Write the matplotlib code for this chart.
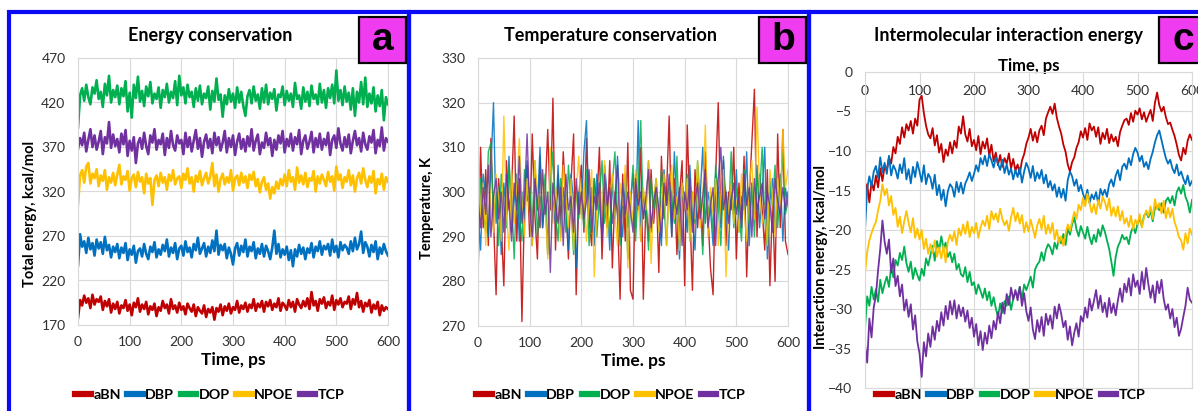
import numpy as np
import matplotlib
matplotlib.use("Agg")
import matplotlib.pyplot as plt
from matplotlib.lines import Line2D
from matplotlib.patches import Rectangle

plt.rcParams['font.family'] = ['Lato', 'DejaVu Sans']

series_names = ["aBN", "DBP", "DOP", "NPOE", "TCP"]
series_colors = ["#C00000", "#0070C0", "#00B050", "#FFC000", "#7030A0"]

# ---------------- Panel a: total energy (t = 0..600 step 4 ps) ----------------
time_a = list(range(0, 601, 4))
energy_aBN = [178, 198, 192, 203, 195, 200, 189, 204, 193, 199,
              196, 202, 187, 197, 191, 199, 184, 194, 188, 196,
              183, 192, 189, 198, 186, 193, 181, 195, 190, 200,
              185, 193, 188, 196, 182, 191, 187, 194, 180, 190,
              186, 197, 189, 193, 183, 199, 188, 192, 184, 195,
              187, 191, 182, 194, 189, 185, 193, 180, 190, 186,
              183, 192, 179, 188, 184, 190, 176, 189, 185, 193,
              181, 191, 186, 194, 183, 190, 187, 197, 184, 192,
              188, 195, 185, 193, 189, 199, 186, 194, 190, 197,
              185, 196, 191, 198, 187, 194, 190, 200, 186, 195,
              192, 187, 198, 190, 196, 185, 199, 193, 189, 197,
              191, 200, 188, 207, 192, 197, 186, 199, 194, 201,
              189, 196, 192, 203, 187, 198, 193, 200, 190, 196,
              194, 202, 188, 199, 193, 206, 190, 197, 185, 195,
              191, 198, 184, 193, 188, 196, 181, 192, 186, 190, 188]
energy_DBP = [237, 272, 258, 264, 251, 268, 255, 262, 248, 266,
              256, 263, 250, 269, 254, 260, 246, 258, 252, 261,
              245, 257, 251, 262, 243, 255, 249, 259, 240, 253,
              256, 247, 261, 250, 244, 258, 252, 263, 246, 255,
              249, 260, 253, 266, 247, 257, 251, 262, 244, 256,
              259, 248, 264, 252, 257, 246, 261, 254, 268, 250,
              256, 262, 247, 258, 251, 265, 253, 276, 249, 260,
              254, 261, 245, 257, 250, 238, 256, 262, 248, 259,
              252, 266, 247, 258, 253, 263, 245, 256, 250, 261,
              247, 259, 253, 244, 257, 276, 250, 261, 246, 255,
              249, 258, 243, 254, 236, 255, 247, 260, 250, 257,
              244, 256, 251, 262, 246, 258, 253, 264, 249, 259,
              255, 261, 248, 266, 252, 259, 246, 263, 254, 260,
              257, 250, 264, 253, 268, 255, 261, 275, 251, 263,
              258, 247, 260, 252, 264, 244, 257, 250, 261, 253, 248]
energy_DOP = [392, 428, 436, 422, 440, 426, 418, 437, 430, 445,
              424, 432, 415, 441, 428, 450, 420, 434, 426, 439,
              418, 436, 427, 444, 410, 431, 403, 440, 425, 449,
              421, 433, 416, 438, 427, 443, 419, 430, 424, 437,
              414, 434, 426, 441, 420, 432, 425, 444, 417, 450,
              428, 437, 419, 440, 426, 432, 415, 436, 422, 439,
              418, 430, 425, 438, 412, 433, 421, 447, 423, 429,
              404, 428, 418, 435, 421, 430, 414, 437, 420, 432,
              416, 405, 427, 434, 419, 438, 422, 429, 413, 436,
              420, 440, 418, 431, 424, 435, 411, 429, 426, 438,
              417, 433, 422, 430, 415, 442, 424, 428, 413, 437,
              421, 432, 416, 439, 424, 429, 418, 441, 420, 434,
              414, 436, 425, 440, 419, 456, 422, 434, 417, 438,
              421, 431, 412, 436, 405, 432, 420, 443, 418, 448,
              415, 430, 419, 437, 410, 428, 416, 434, 400, 426, 418]
energy_NPOE = [305, 338, 344, 330, 348, 352, 329, 340, 335, 345,
               326, 338, 332, 344, 322, 336, 330, 341, 327, 339,
               350, 328, 337, 333, 343, 321, 335, 339, 325, 342,
               331, 336, 318, 340, 329, 335, 305, 333, 338, 326,
               341, 330, 336, 322, 339, 332, 344, 328, 335, 337,
               324, 340, 333, 346, 329, 336, 320, 338, 331, 343,
               327, 335, 341, 329, 337, 352, 326, 339, 320, 334,
               340, 328, 336, 330, 344, 321, 335, 338, 327, 341,
               330, 337, 324, 339, 333, 342, 326, 334, 319, 331,
               336, 322, 329, 312, 325, 318, 331, 323, 334, 327,
               339, 326, 344, 331, 336, 322, 347, 330, 338, 328,
               341, 325, 335, 332, 343, 320, 337, 329, 339, 333,
               326, 342, 331, 337, 321, 348, 333, 339, 324, 336,
               331, 344, 327, 338, 320, 335, 341, 329, 346, 333,
               325, 337, 330, 343, 318, 334, 328, 340, 322, 336, 331]
energy_TCP = [368, 380, 372, 386, 365, 378, 390, 370, 383, 367,
              376, 388, 362, 381, 374, 398, 369, 384, 371, 379,
              364, 385, 373, 389, 360, 377, 366, 381, 352, 374,
              380, 368, 386, 371, 362, 383, 375, 390, 367, 378,
              373, 385, 361, 380, 369, 388, 372, 366, 383, 374,
              378, 362, 386, 370, 381, 365, 377, 389, 368, 380,
              359, 376, 384, 369, 379, 363, 386, 372, 381, 366,
              375, 388, 364, 380, 370, 383, 361, 376, 385, 368,
              379, 365, 382, 371, 390, 366, 377, 384, 362, 375,
              369, 386, 372, 380, 360, 378, 367, 383, 374, 388,
              364, 379, 371, 385, 366, 381, 373, 389, 362, 377,
              383, 368, 376, 387, 364, 380, 370, 385, 367, 379,
              372, 386, 361, 378, 383, 369, 391, 374, 366, 381,
              370, 384, 363, 377, 388, 372, 380, 365, 386, 373,
              367, 382, 375, 389, 363, 378, 371, 392, 366, 380, 376]

# ---------------- Panel b: temperature (t = 0..600 step 5 ps) ----------------
time_b = list(range(0, 601, 5))
temp_aBN = [280, 310, 292, 305, 288, 312, 294, 277, 303, 293,
            279, 307, 296, 300, 317, 289, 303, 271, 297, 306,
            290, 313, 295, 285, 308, 292, 300, 314, 296, 321,
            287, 304, 293, 309, 298, 285, 302, 313, 277, 299,
            306, 291, 312, 294, 288, 303, 297, 310, 285, 301,
            292, 307, 283, 300, 295, 276, 304, 289, 311, 278,
            276, 304, 296, 310, 276, 298, 289, 305, 293, 301,
            282, 308, 294, 300, 317, 290, 303, 286, 299, 307,
            279, 315, 296, 278, 305, 292, 301, 288, 309, 295,
            283, 277, 304, 320, 293, 307, 288, 300, 296, 310,
            285, 302, 294, 308, 281, 299, 311, 323, 290, 304,
            296, 287, 305, 279, 298, 280, 313, 292, 314, 289, 286]
temp_DBP = [296, 287, 304, 299, 290, 305, 320, 293, 301, 286,
            302, 295, 308, 291, 298, 304, 289, 300, 294, 307,
            297, 288, 303, 296, 310, 292, 299, 286, 305, 298,
            293, 306, 290, 301, 296, 287, 304, 298, 283, 300,
            295, 309, 316, 292, 301, 288, 304, 297, 291, 306,
            299, 287, 303, 294, 308, 296, 290, 302, 285, 297,
            304, 292, 316, 289, 300, 295, 307, 291, 298, 303,
            294, 288, 305, 297, 301, 290, 309, 296, 285, 302,
            298, 291, 306, 295, 287, 303, 299, 310, 293, 300,
            296, 288, 304, 301, 292, 308, 297, 287, 302, 294,
            305, 291, 299, 296, 309, 288, 302, 295, 306, 292,
            300, 310, 285, 298, 303, 291, 296, 304, 289, 301, 297]
temp_DOP = [283, 303, 296, 291, 309, 311, 294, 300, 288, 304,
            297, 292, 306, 299, 285, 302, 295, 289, 305, 298,
            301, 293, 307, 290, 299, 296, 304, 287, 300, 309,
            295, 289, 303, 298, 291, 306, 297, 286, 301, 294,
            300, 292, 305, 288, 296, 303, 290, 299, 307, 293,
            298, 291, 302, 309, 295, 288, 300, 304, 292, 297,
            306, 289, 301, 316, 294, 298, 287, 303, 296, 300,
            291, 305, 297, 288, 302, 299, 293, 308, 290, 301,
            296, 304, 289, 300, 293, 307, 298, 286, 302, 295,
            299, 291, 306, 297, 288, 303, 300, 294, 309, 292,
            301, 296, 289, 305, 298, 293, 302, 290, 304, 299,
            310, 294, 288, 303, 297, 306, 292, 300, 309, 295, 298]
temp_NPOE = [311, 293, 302, 288, 306, 297, 291, 304, 299, 289,
             317, 296, 287, 305, 293, 301, 312, 298, 290, 303,
             295, 288, 307, 300, 292, 304, 297, 285, 310, 293,
             301, 296, 289, 306, 299, 292, 303, 287, 300, 308,
             294, 302, 289, 298, 305, 281, 296, 301, 293, 307,
             290, 299, 304, 295, 288, 302, 297, 306, 283, 300,
             293, 305, 298, 289, 301, 296, 307, 284, 299, 303,
             291, 297, 304, 288, 300, 306, 294, 299, 287, 302,
             296, 303, 289, 300, 294, 307, 292, 298, 315, 290,
             301, 295, 303, 288, 299, 305, 281, 296, 302, 293,
             298, 291, 304, 296, 289, 302, 307, 294, 319, 300,
             293, 297, 288, 305, 299, 290, 303, 296, 314, 301, 305]
temp_TCP = [298, 292, 301, 295, 306, 290, 299, 303, 294, 300,
            291, 304, 297, 289, 302, 296, 308, 293, 299, 313,
            296, 290, 303, 298, 292, 305, 295, 300, 282, 302,
            297, 293, 301, 288, 304, 296, 299, 291, 303, 295,
            300, 294, 298, 305, 291, 299, 296, 302, 289, 304,
            297, 301, 293, 299, 306, 290, 302, 295, 300, 296,
            291, 303, 297, 300, 294, 299, 305, 292, 298, 301,
            296, 290, 302, 297, 304, 293, 299, 295, 301, 288,
            300, 296, 303, 291, 298, 302, 294, 299, 305, 292,
            297, 301, 288, 303, 310, 296, 300, 293, 298, 302,
            295, 299, 292, 304, 297, 301, 290, 303, 296, 299,
            302, 294, 300, 297, 291, 303, 298, 295, 301, 296, 300]

# ---------------- Panel c: interaction energy (t = 0..600 step 4 ps) ----------------
time_c = list(range(0, 601, 4))
inter_aBN = [-15.8, -14.2, -16.5, -13.9, -15.0, -13.1, -14.6, -12.2, -13.8, -11.9,
             -12.4, -10.8, -11.6, -9.5, -10.3, -8.2, -9.1, -7.0, -8.3, -6.6,
             -7.4, -6.2, -7.8, -5.9, -6.8, -3.5, -3.0, -5.2, -6.8, -7.9,
             -8.4, -7.1, -9.3, -8.0, -10.2, -9.1, -11.4, -9.8, -10.6, -8.9,
             -10.3, -8.7, -9.6, -6.9, -7.8, -5.6, -7.9, -8.8, -7.2, -9.4,
             -8.6, -9.9, -8.1, -10.4, -8.8, -9.7, -8.4, -10.6, -9.2, -11.3,
             -10.2, -11.8, -10.5, -12.0, -10.9, -11.6, -10.3, -12.2, -11.0, -12.5,
             -11.7, -12.9, -11.2, -10.4, -9.1, -8.3, -7.2, -8.7, -7.6, -8.9,
             -7.4, -6.8, -8.0, -5.9, -5.1, -4.4, -5.3, -4.0, -5.8, -6.9,
             -7.8, -9.2, -10.1, -11.7, -12.6, -11.4, -10.8, -9.6, -8.9, -7.5,
             -8.3, -7.1, -8.6, -6.5, -7.4, -6.9, -8.2, -7.0, -9.1, -7.7,
             -8.5, -7.2, -9.0, -7.9, -8.8, -8.2, -9.4, -7.6, -6.8, -6.1,
             -5.9, -6.7, -5.2, -6.3, -4.9, -5.4, -4.6, -6.0, -5.1, -6.3,
             -5.5, -4.8, -6.2, -3.9, -2.6, -4.2, -5.0, -4.4, -5.7, -6.6,
             -6.4, -7.3, -8.1, -9.2, -10.5, -11.2, -9.6, -10.4, -8.7, -7.9, -8.6]
inter_DBP = [-20.0, -14.8, -13.2, -14.5, -12.6, -11.9, -13.4, -10.8, -12.7, -11.5,
             -12.9, -10.6, -13.1, -11.8, -12.4, -13.5, -11.7, -12.8, -10.9, -13.6,
             -12.3, -14.1, -12.0, -13.3, -11.4, -12.6, -13.9, -11.8, -14.2, -12.9,
             -13.4, -14.8, -13.0, -15.6, -14.3, -16.2, -14.9, -17.0, -15.1, -14.2,
             -14.6, -15.8, -13.9, -15.2, -14.0, -15.4, -14.1, -13.5, -12.7, -13.8,
             -12.9, -11.8, -12.6, -10.9, -11.7, -10.6, -11.9, -10.4, -11.2, -12.1,
             -10.8, -11.6, -12.4, -11.1, -12.8, -11.7, -13.0, -12.2, -13.6, -12.4,
             -13.3, -12.1, -14.0, -12.6, -11.5, -12.2, -13.4, -11.9, -13.8, -12.7,
             -13.5, -12.4, -14.1, -13.0, -14.6, -13.8, -15.0, -14.2, -15.8, -14.6,
             -15.9, -14.8, -16.3, -13.7, -12.6, -13.2, -14.4, -13.6, -15.1, -14.3,
             -15.4, -16.2, -14.9, -16.6, -15.5, -16.1, -15.2, -16.7, -14.8, -15.6,
             -14.9, -15.8, -14.2, -13.6, -14.5, -13.1, -12.4, -13.7, -12.0, -11.6,
             -12.3, -10.9, -11.8, -10.4, -9.6, -10.2, -11.3, -10.6, -12.0, -11.4,
             -12.3, -11.0, -10.1, -8.9, -8.0, -7.4, -8.6, -9.8, -10.9, -11.6,
             -11.1, -12.2, -12.8, -11.7, -13.1, -12.6, -13.5, -14.2, -13.1, -14.4, -13.8]
inter_DOP = [-32.5, -28.4, -29.6, -27.2, -28.8, -27.5, -29.1, -26.3, -28.0, -26.8,
             -25.9, -27.2, -24.6, -26.0, -23.8, -24.5, -22.9, -23.8, -22.1, -24.2,
             -25.3, -24.0, -26.2, -24.8, -25.7, -26.4, -24.9, -25.8, -23.6, -24.5,
             -23.2, -22.0, -23.9, -21.4, -22.6, -20.8, -22.3, -21.6, -23.4, -22.8,
             -24.1, -23.0, -25.0, -24.3, -25.6, -25.9, -24.7, -26.6, -25.3, -27.0,
             -26.6, -28.1, -26.9, -27.7, -28.6, -27.4, -28.9, -27.8, -29.6, -28.5,
             -29.9, -31.0, -29.3, -30.5, -29.0, -29.6, -28.4, -30.1, -28.7, -27.9,
             -28.3, -27.2, -28.8, -26.9, -27.6, -26.8, -25.9, -27.3, -25.0, -24.4,
             -24.0, -22.8, -23.9, -22.5, -21.8, -22.2, -23.1, -21.6, -22.4, -21.0,
             -21.7, -20.5, -21.9, -19.8, -20.6, -19.3, -18.4, -19.9, -20.8, -19.5,
             -20.3, -21.1, -19.6, -20.9, -21.8, -20.6, -21.5, -19.9, -20.8, -19.4,
             -20.2, -21.3, -22.4, -24.0, -25.8, -23.4, -22.1, -21.5, -20.6, -21.2,
             -20.9, -21.8, -20.3, -19.6, -20.4, -19.2, -18.6, -19.5, -18.2, -17.8,
             -18.4, -17.6, -18.9, -17.2, -16.9, -17.5, -16.6, -17.8, -16.3, -15.9,
             -16.6, -15.7, -16.9, -15.2, -14.6, -15.4, -14.3, -15.8, -16.5, -17.8, -16.2]
inter_NPOE = [-25.5, -22.8, -21.3, -20.4, -19.6, -19.0, -17.5, -16.3, -14.2, -15.6,
              -14.8, -16.9, -15.7, -18.1, -17.2, -19.6, -18.3, -20.4, -18.9, -17.6,
              -19.1, -20.3, -18.5, -21.0, -19.8, -21.2, -20.0, -22.4, -21.1, -23.0,
              -21.8, -22.9, -21.3, -23.4, -22.2, -23.6, -22.0, -24.1, -21.5, -20.6,
              -21.4, -20.2, -21.9, -19.8, -20.7, -19.3, -20.5, -18.9, -20.9, -19.6,
              -20.4, -19.1, -21.0, -19.7, -18.8, -19.5, -18.2, -19.9, -17.6, -18.7,
              -17.9, -19.0, -17.3, -18.6, -19.4, -18.8, -20.1, -18.4, -17.2, -18.9,
              -17.8, -19.2, -18.1, -20.3, -19.0, -20.2, -18.7, -19.8, -21.0, -19.4,
              -18.6, -19.9, -18.2, -20.5, -19.3, -20.4, -19.1, -21.2, -20.0, -21.6,
              -20.8, -22.0, -20.5, -19.3, -20.1, -18.9, -17.7, -18.6, -16.8, -17.5,
              -15.9, -17.0, -15.4, -16.6, -17.8, -16.7, -18.0, -16.2, -17.3, -15.8,
              -16.4, -17.5, -16.0, -18.2, -17.1, -18.3, -17.0, -18.8, -17.6, -19.2,
              -18.5, -19.6, -18.2, -19.9, -18.7, -19.3, -18.0, -19.7, -18.4, -17.5,
              -18.2, -17.0, -18.6, -16.1, -17.4, -16.6, -17.9, -16.3, -18.5, -17.2,
              -18.4, -17.3, -19.0, -19.8, -20.9, -21.3, -22.5, -20.4, -21.7, -19.8, -20.6]
inter_TCP = [-34.5, -36.8, -31.2, -33.6, -29.8, -28.3, -25.1, -22.4, -18.8, -21.5,
             -23.0, -21.2, -25.4, -23.6, -27.1, -25.8, -28.4, -26.9, -30.2, -28.8,
             -31.0, -29.4, -32.6, -30.8, -34.1, -35.6, -38.6, -34.2, -36.0, -33.1,
             -34.8, -32.2, -33.9, -31.5, -32.8, -30.4, -32.1, -29.6, -31.3, -29.0,
             -30.7, -28.9, -31.2, -29.5, -30.9, -29.8, -31.6, -30.2, -32.4, -31.1,
             -33.5, -31.9, -34.6, -32.8, -35.2, -33.0, -34.4, -32.1, -33.7, -31.5,
             -32.6, -30.4, -31.8, -29.2, -30.6, -28.1, -29.5, -27.3, -28.8, -27.6,
             -28.9, -27.2, -29.6, -28.0, -30.3, -31.5, -29.8, -32.6, -33.8, -31.4,
             -32.9, -31.0, -33.4, -30.6, -32.0, -30.8, -32.5, -29.7, -31.2, -29.4,
             -30.6, -32.3, -31.5, -33.9, -32.2, -34.6, -33.0, -31.8, -33.5, -30.9,
             -31.6, -29.8, -31.1, -28.7, -30.2, -29.0, -27.6, -29.9, -28.3, -30.4,
             -29.2, -31.0, -28.6, -30.5, -29.3, -30.8, -28.9, -27.4, -29.1, -26.8,
             -27.9, -26.1, -28.3, -25.6, -27.2, -26.4, -28.1, -25.3, -27.5, -24.8,
             -26.9, -28.6, -27.0, -29.2, -26.5, -28.0, -26.3, -28.7, -30.1, -29.4,
             -31.2, -30.0, -32.3, -31.1, -33.4, -32.5, -31.0, -29.6, -27.3, -28.8, -29.2]

panel_letters = ["a", "b", "c"]
panel_titles = ["Energy conservation", "Temperature conservation",
                "Intermolecular interaction energy"]

W, H = 1198, 411
fig = plt.figure(figsize=(W / 100, H / 100), dpi=100)
fig.patch.set_facecolor("white")


def fx(px):
    return px / W


def fy(py):
    return 1 - py / H


def make_axes(x0, x1, ytop, ybot):
    return fig.add_axes([fx(x0), fy(ybot), fx(x1) - fx(x0), fy(ytop) - fy(ybot)])


grid_c = "#D9D9D9"
tick_fs = 10
ylabel_fs = 10.5
xlabel_fs = 12.5
title_fs = 13


def style_axes(ax):
    for s in ax.spines.values():
        s.set_color(grid_c)
        s.set_linewidth(0.8)
    ax.grid(True, color=grid_c, linewidth=0.8)
    ax.set_axisbelow(True)
    ax.tick_params(length=0, labelsize=tick_fs, colors="#303030")


# ---------- Panel a ----------
axa = make_axes(78, 388, 58, 325)
for name, col, vals in zip(series_names, series_colors,
                           [energy_aBN, energy_DBP, energy_DOP, energy_NPOE, energy_TCP]):
    axa.plot(time_a, vals, color=col, lw=1.9)
axa.set_xlim(0, 600)
axa.set_ylim(170, 470)
axa.set_xticks(range(0, 601, 100))
axa.set_yticks(range(170, 471, 50))
style_axes(axa)
axa.tick_params(axis="x", pad=8)
axa.tick_params(axis="y", pad=9)
axa.set_xlabel("Time, ps", fontsize=xlabel_fs, fontweight="bold", labelpad=3)
axa.set_ylabel("Total energy, kcal/mol", fontsize=ylabel_fs, fontweight="bold")
axa.yaxis.set_label_coords(-0.132, 0.415)

# ---------- Panel b ----------
axb = make_axes(478, 788, 58, 326)
for name, col, vals in zip(series_names, series_colors,
                           [temp_aBN, temp_DBP, temp_DOP, temp_NPOE, temp_TCP]):
    axb.plot(time_b, vals, color=col, lw=1.0, alpha=0.85)
axb.set_xlim(0, 600)
axb.set_ylim(270, 330)
axb.set_xticks(range(0, 601, 100))
axb.set_yticks(range(270, 331, 10))
style_axes(axb)
axb.tick_params(axis="x", pad=8)
axb.tick_params(axis="y", pad=9)
axb.set_xlabel("Time. ps", fontsize=xlabel_fs, fontweight="bold", labelpad=3)
axb.set_ylabel("Temperature, K", fontsize=ylabel_fs, fontweight="bold")
axb.yaxis.set_label_coords(-0.142, 0.44)

# ---------- Panel c ----------
axc = make_axes(865, 1192, 72, 388)
for name, col, vals in zip(series_names, series_colors,
                           [inter_aBN, inter_DBP, inter_DOP, inter_NPOE, inter_TCP]):
    axc.plot(time_c, vals, color=col, lw=1.3)
axc.set_xlim(0, 600)
axc.set_ylim(-40, 0)
axc.set_xticks(range(0, 601, 100))
axc.set_yticks(range(-40, 1, 5))
style_axes(axc)
axc.xaxis.set_label_position("top")
axc.tick_params(axis="x", top=True, labeltop=True, bottom=False, labelbottom=False, pad=-18)
axc.tick_params(axis="y", pad=9)
axc.set_xlabel("Time, ps", fontsize=xlabel_fs - 0.5, fontweight="bold", labelpad=1)
axc.set_ylabel("Interaction energy, kcal/mol", fontsize=ylabel_fs, fontweight="bold")
axc.yaxis.set_label_coords(-0.112, 0.415)

# ---------- Legends ----------
handles = [Line2D([0], [0], color=c, lw=4.5) for c in series_colors]
for cx in [210, 611, 1011]:
    fig.legend(handles, series_names, loc="center", bbox_to_anchor=(fx(cx), fy(395)),
               ncol=5, frameon=False, handlelength=1.1, handletextpad=0.15,
               columnspacing=0.45, prop={"weight": "bold", "size": 10.3})

# ---------- Titles ----------
for cx, t in zip([210, 610, 1009], panel_titles):
    fig.text(fx(cx), fy(35), t, ha="center", va="center", fontsize=title_fs, fontweight="bold")

# ---------- Blue panel borders ----------
for x0, x1 in [(9, 409), (409, 809), (809, 1205)]:
    fig.patches.append(Rectangle((fx(x0), fy(430)), fx(x1) - fx(x0), fy(12) - fy(430),
                                 transform=fig.transFigure, fill=False,
                                 edgecolor="#0A0AF5", lw=3.0, zorder=5))

# ---------- Magenta letter boxes ----------
for (x0, x1), letter in zip([(359, 406), (759, 806), (1159, 1215)], panel_letters):
    fig.patches.append(Rectangle((fx(x0), fy(63)), fx(x1) - fx(x0), fy(17) - fy(63),
                                 transform=fig.transFigure, facecolor="#F03CF0",
                                 edgecolor="black", lw=1.6, zorder=6))
    fig.text(fx(x0 + 24), fy(40), letter, ha="center", va="center", fontsize=28,
             fontweight="bold", family="Liberation Sans", zorder=7)

fig.savefig("out.png", dpi=100, facecolor="white")
